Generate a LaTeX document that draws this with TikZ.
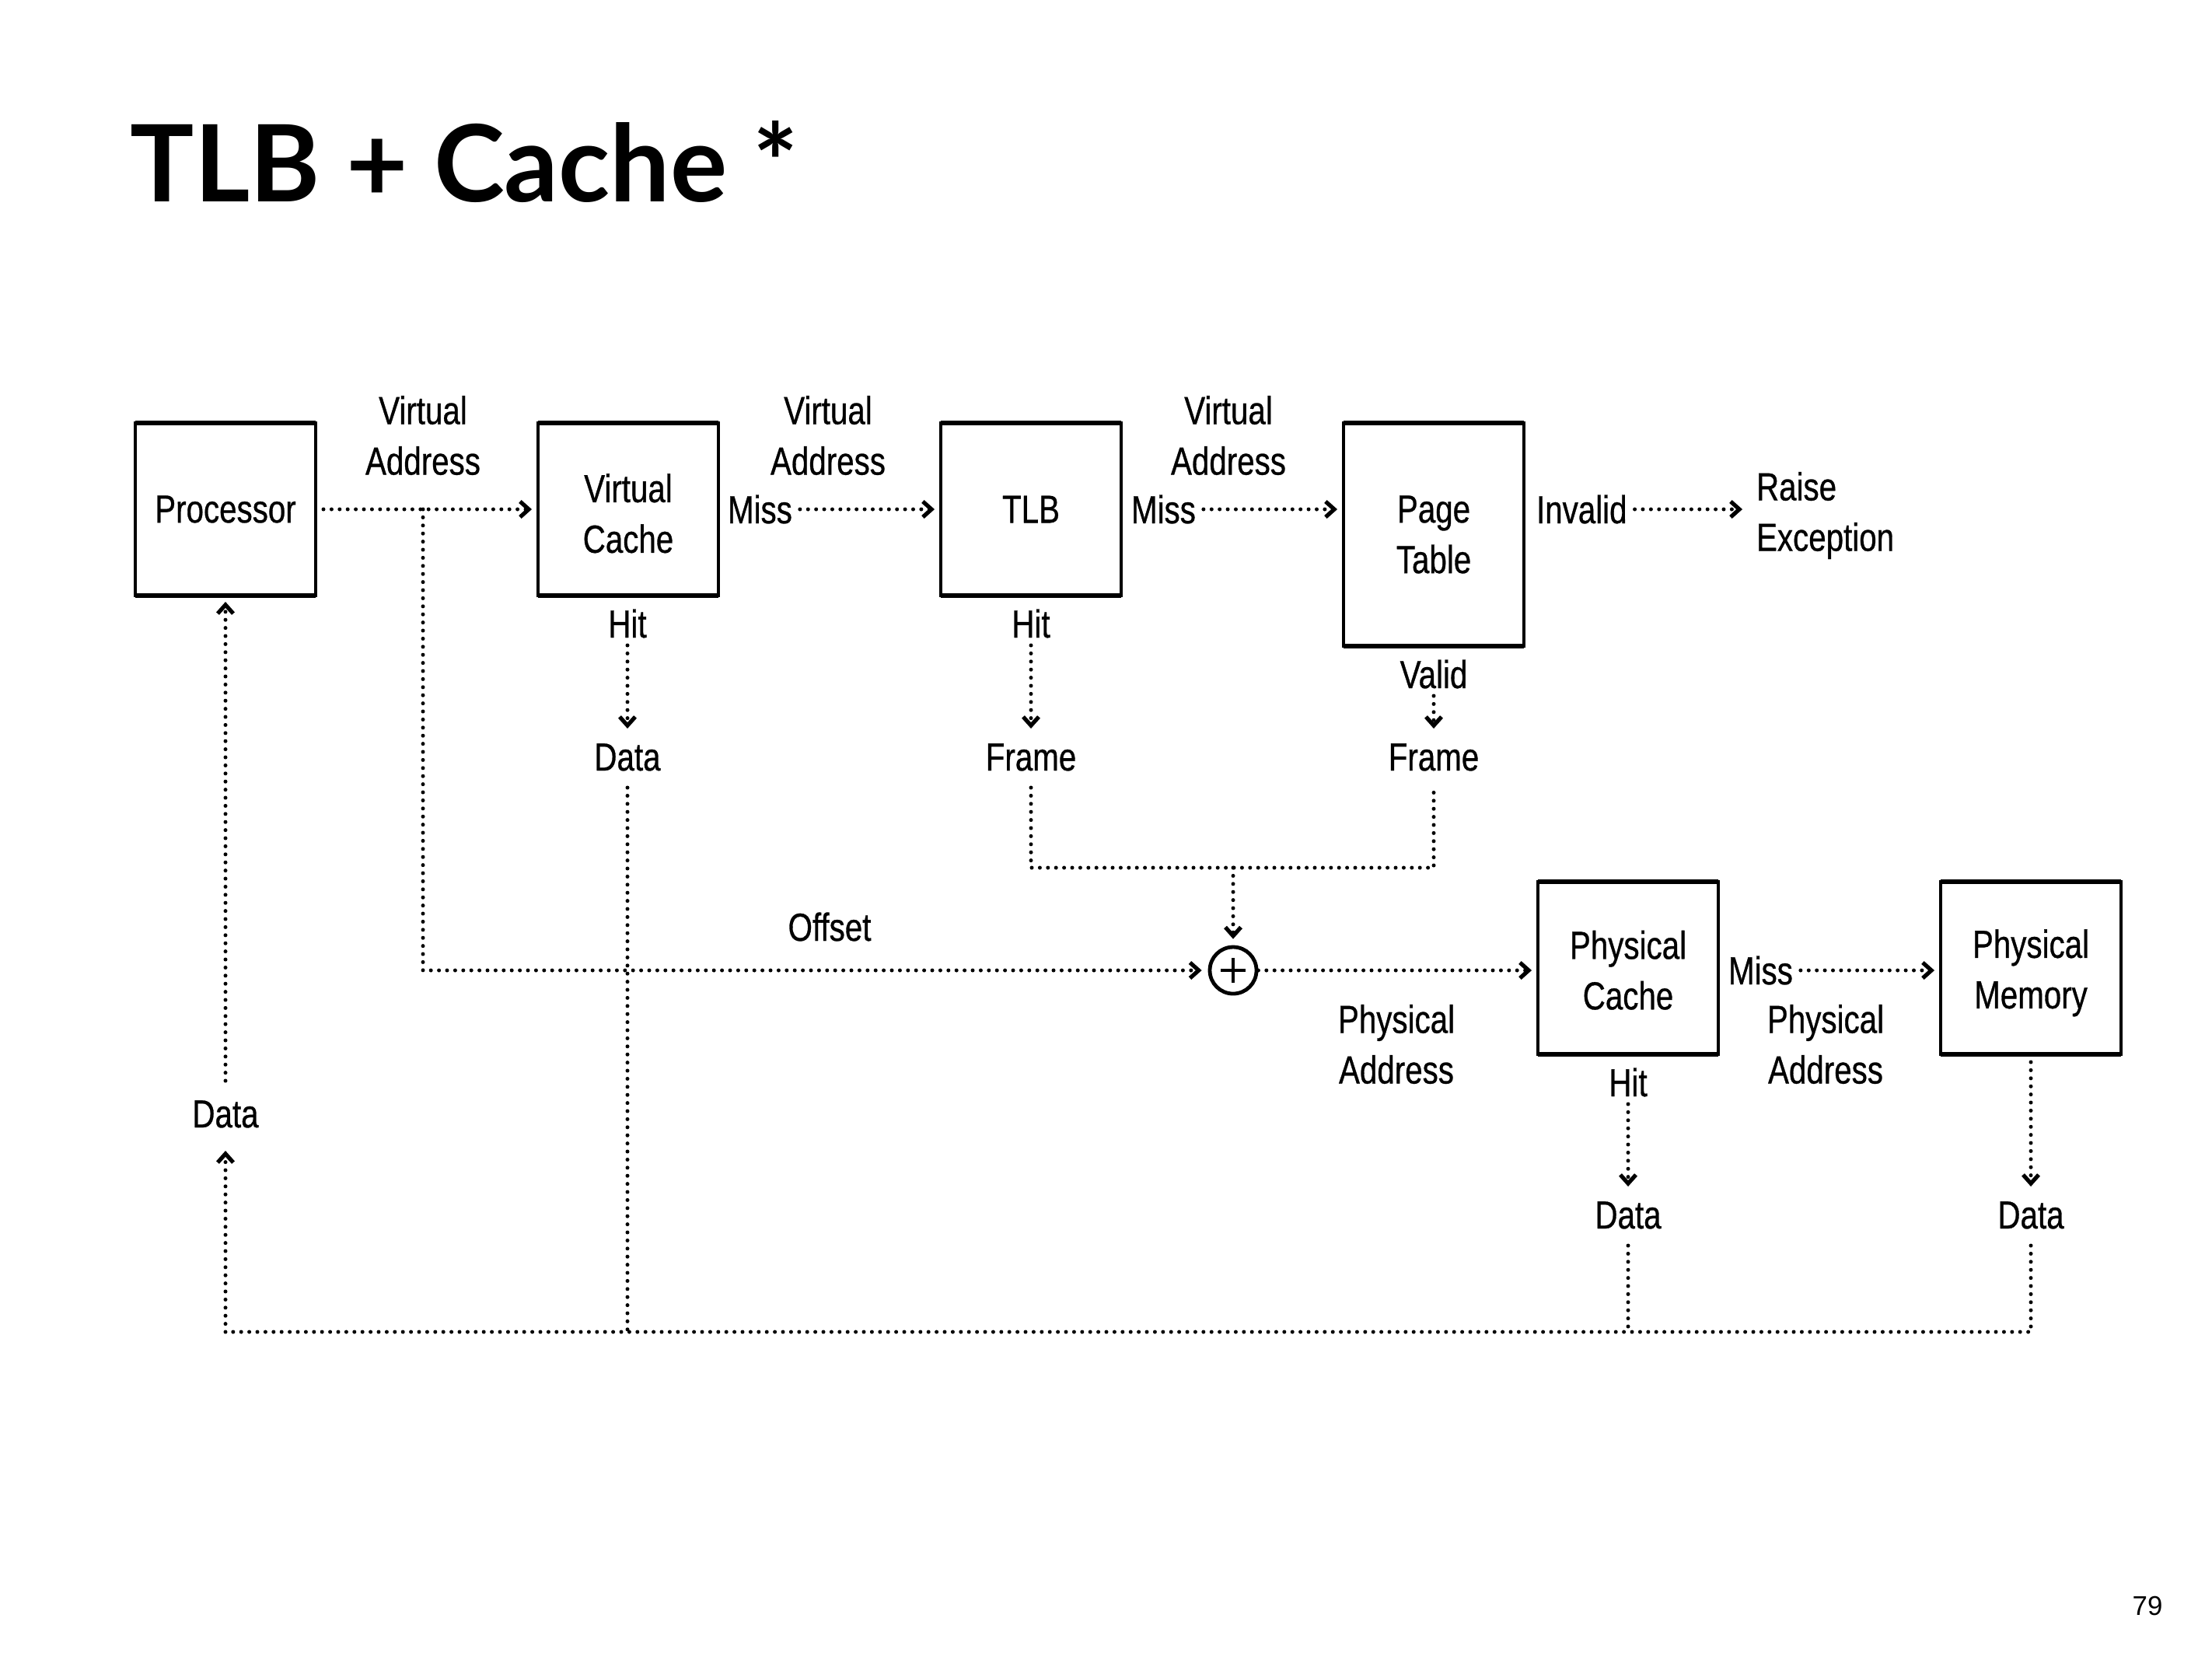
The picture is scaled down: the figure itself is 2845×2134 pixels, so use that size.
\documentclass[tikz,border=0pt]{standalone}
\usepackage{fontspec}
\setmainfont{Liberation Sans}
\newfontfamily\lblfont{Liberation Sans}[FakeStretch=0.8,FakeBold=0.6]
\newfontfamily\titlefont{Lato}
\usetikzlibrary{arrows.meta}
\begin{document}
\begin{tikzpicture}[x=0.25pt,y=-0.25pt,
  lblfnt/.style={font=\lblfont\fontsize{12.6}{16.25}\selectfont},
  box/.style={draw, line width=1.1pt, minimum width=58pt, minimum height=55.5pt, align=center, lblfnt, inner sep=0pt, outer sep=0pt},
  lbl/.style={lblfnt, align=center, inner sep=0pt, outer sep=2.5pt},
  one/.style={lbl, text height=9pt, text depth=0pt},
  dotline/.style={line width=1.25pt, dash pattern=on 0pt off 2.6pt, line cap=round},
  arr/.style={dotline, -{Straight Barb[length=2.8pt,width=5pt,line width=1.3pt]}, shorten >=2pt},
]
\fill[white] (0,0) rectangle (2845,2134);
\useasboundingbox (0,0) rectangle (2845,2134);

% title and page number
\node[anchor=base west, inner sep=0pt, font=\titlefont\bfseries\fontsize{34.3}{40}\selectfont] (title) at (167,259) {TLB + Cache *};
\node[inner sep=0pt, font=\fontsize{8.7}{10}\selectfont] (pg) at (2762,2065) {79};

% boxes
\node[box] (proc) at (290,655) {Processor};
\node[box] (vc) at (808,655) {\rule{0pt}{11.8pt}Virtual\\Cache};
\node[box] (tlb) at (1326,655) {TLB};
\node[box, minimum height=71.75pt] (pt) at (1844,687.5) {Page\\Table};
\node[box] (pc) at (2094,1245) {\rule{0pt}{10.5pt}Physical\\Cache};
\node[box] (pm) at (2612,1245) {\rule{0pt}{12.3pt}Physical\\Memory};
\foreach \n in {proc,vc,tlb,pt,pc,pm}{
  \draw[line width=1.5pt] (\n.north west) -- (\n.north east);
  \draw[line width=1.5pt] (\n.south west) -- (\n.south east);
}

% labels
\node[lbl] (va1) at (544,560) {Virtual\\Address};
\node[lbl] (va2) at (1065,560) {Virtual\\Address};
\node[lbl] (va3) at (1580,560) {Virtual\\Address};
\node[one, anchor=west] (vcmiss) at (926,655) {Miss};
\node[one, anchor=west] (tlbmiss) at (1445,655) {Miss};
\node[one, anchor=west] (invalid) at (1966,655) {Invalid};
\node[lbl, anchor=west, align=left] (raise) at (2249,663) {Raise\\Exception};
\node[one] (vchit) at (807,802) {Hit};
\node[one] (vcdata) at (807,973) {Data};
\node[one] (tlbhit) at (1326,802) {Hit};
\node[one] (tlbframe) at (1326,973) {Frame};
\node[one] (ptvalid) at (1844,867) {Valid};
\node[one] (ptframe) at (1844,973) {Frame};
\node[one] (offset) at (1067,1192) {Offset};
\node[lbl] (pa1) at (1796,1343) {Physical\\Address};
\node[one, anchor=west] (pcmiss) at (2213,1248) {Miss};
\node[lbl] (pa2) at (2348,1343) {Physical\\Address};
\node[one] (pchit) at (2094,1392) {Hit};
\node[one] (pcdata) at (2094,1562) {Data};
\node[one] (pmdata) at (2612,1562) {Data};
\node[one] (procdata) at (290,1432) {Data};

% adder
\node[circle, draw, line width=1.2pt, minimum size=15pt, inner sep=0pt] (plus) at (1586,1248) {};
\draw[line width=1.2pt] ([xshift=-4pt]plus.center) -- ([xshift=4pt]plus.center)
  ([yshift=-4pt]plus.center) -- ([yshift=4pt]plus.center);

% helper coordinates
\coordinate (br) at (544,655);
\coordinate (fj) at (1586,1116);
\coordinate (bl) at (290,1713);

% connectors
\draw[arr, shorten <=2.5pt] (proc.east) -- (vc.west);
\draw[arr] (br) |- (plus.west);
\draw[arr] (vcmiss.east) -- (tlb.west);
\draw[arr] (tlbmiss.east) -- (tlbmiss.east -| pt.west);
\draw[arr] (invalid.east) -- (raise.west |- invalid.east);
\draw[arr] (vchit.south) -- (vcdata.north);
\draw[arr] (tlbhit.south) -- (tlbframe.north);
\draw[arr] (ptvalid.south) -- (ptframe.north);
\draw[arr] (pchit.south) -- (pcdata.north);
\draw[arr, shorten <=2.5pt] (pm.south) -- (pmdata.north);
\draw[dotline, shorten <=3pt] (tlbframe.south) |- (fj) -| ([yshift=-3pt]ptframe.south);
\draw[arr] (fj) -- (plus.north);
\draw[arr] (plus.east) -- (pc.west |- plus.east);
\draw[arr] (pcmiss.east) -- (pm.west |- pcmiss.east);
\draw[dotline, shorten <=3pt] (pmdata.south) |- (bl);
\draw[arr, shorten >=5pt] (bl) -- (procdata.south);
\draw[arr, shorten <=3.5pt] (procdata.north) -- (proc.south);
\draw[dotline, shorten <=3pt] (vcdata.south) -- (vcdata.south |- bl);
\draw[dotline, shorten <=3pt] (pcdata.south) -- (pcdata.south |- bl);
\end{tikzpicture}
\end{document}
